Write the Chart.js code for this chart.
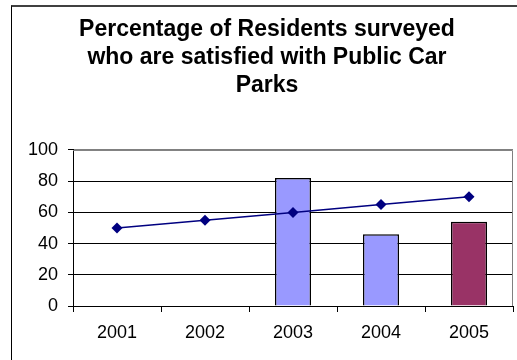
<!DOCTYPE html>
<html>
<head>
<meta charset="utf-8">
<script src="https://cdn.jsdelivr.net/npm/chart.js@4/dist/chart.umd.min.js"></script>
<style>
    html, body { margin: 0; padding: 0; background: #fff; overflow: hidden; }
    #wrap { position: relative; width: 517px; height: 360px; overflow: hidden; }
    #chart { position: absolute; left: 0; top: 0; }
    #frame {
        position: absolute; left: 11px; top: 5px; width: 520px; height: 370px;
        border-left: 1px solid #000; border-top: 2px solid #404040;
        pointer-events: none;
    }
</style>
</head>
<body>
<div id="wrap">
    <canvas id="chart" width="534" height="360" style="width:534px;height:360px"></canvas>
    <div id="frame"></div>
</div>
<script>
const titleLines = ['Percentage of Residents surveyed', 'who are satisfied with Public Car', 'Parks'];
const years = ['2001', '2002', '2003', '2004', '2005'];
const barValues = [null, null, 82, 46, 54];
const barColors = ['#9999FF', '#9999FF', '#9999FF', '#9999FF', '#993366'];
const lineValues = [50, 55, 60, 65, 70];
const yTicks = [0, 20, 40, 60, 80, 100];

const FONT = "Arial, 'Liberation Sans', sans-serif";

// rahmen um die Zeichenfläche: oben/rechts grau
const plotFrame = {
    id: 'plotFrame',
    beforeDatasetsDraw(chart) {
        const { ctx, chartArea: a } = chart;
        ctx.save();
        ctx.strokeStyle = '#808080';
        ctx.lineWidth = 1;
        ctx.beginPath();
        ctx.moveTo(a.left, a.top + 0.5);
        ctx.lineTo(a.right - 0.5, a.top + 0.5);
        ctx.lineTo(a.right - 0.5, a.bottom);
        ctx.stroke();
        ctx.restore();
    }
};

new Chart(document.getElementById('chart').getContext('2d'), {
    data: {
        labels: years,
        datasets: [
            {
                type: 'line',
                data: lineValues,
                borderColor: '#000080',
                backgroundColor: '#000080',
                borderWidth: 1.5,
                pointStyle: 'rectRot',
                pointRadius: 5.5,
                pointBorderWidth: 0,
                tension: 0,
                order: 0
            },
            {
                type: 'bar',
                data: barValues,
                backgroundColor: barColors,
                borderColor: '#000',
                borderWidth: 1.5,
                categoryPercentage: 1,
                barPercentage: 0.41,
                order: 1
            }
        ]
    },
    options: {
        responsive: false,
        animation: false,
        layout: { padding: { left: 21, right: 21, top: 0, bottom: 0 } },
        plugins: {
            legend: { display: false },
            tooltip: { enabled: false },
            title: {
                display: true,
                text: titleLines,
                color: '#000',
                font: { family: FONT, size: 23, weight: 'bold', lineHeight: 1.22 },
                padding: { top: 16, bottom: 49.8 }
            }
        },
        scales: {
            x: {
                offset: true,
                grid: { offset: true, drawOnChartArea: false, drawTicks: true, tickLength: 6, color: '#000' },
                border: { color: '#000', width: 1 },
                ticks: { color: '#000', font: { family: FONT, size: 18 }, padding: 10 },
                afterFit(scale) { scale.height = 54; }
            },
            y: {
                min: 0,
                max: 100,
                afterBuildTicks(scale) { scale.ticks = yTicks.map(v => ({ value: v })); },
                grid: {
                    color: ctx => ctx.tick && ctx.tick.value === 100 ? '#808080' : '#000',
                    tickColor: '#000',
                    tickLength: 5
                },
                border: { color: '#000', width: 1 },
                ticks: { color: '#000', font: { family: FONT, size: 18 }, padding: 10 },
                afterFit(scale) { scale.width = 52; }
            }
        }
    },
    plugins: [plotFrame]
});
</script>
</body>
</html>
